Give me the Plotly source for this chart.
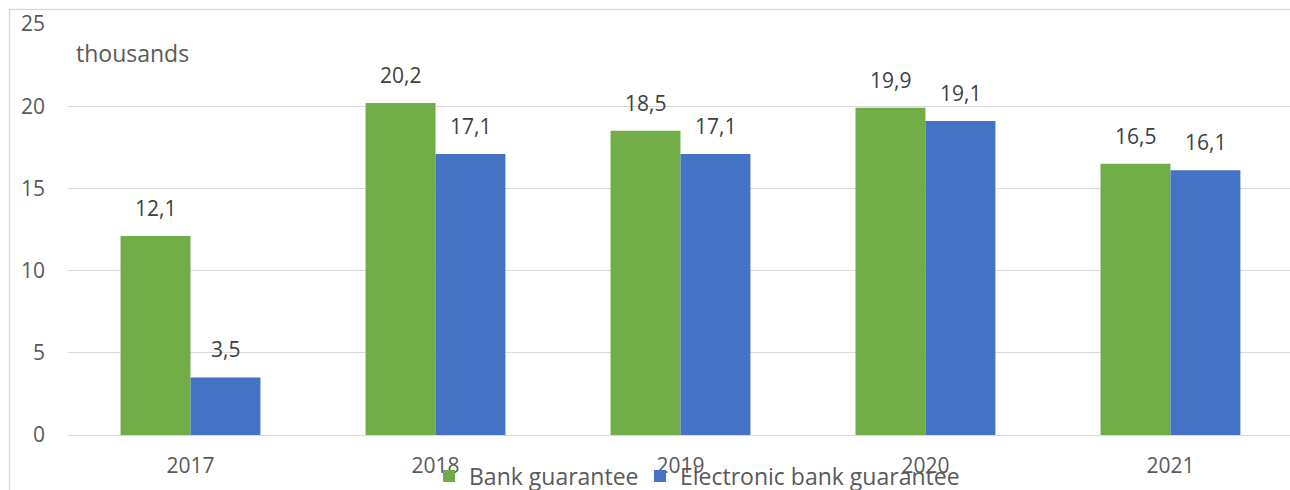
import plotly.graph_objects as go

years = ["2017", "2018", "2019", "2020", "2021"]
bank_guarantee = [12.1, 20.2, 18.5, 19.9, 16.5]
electronic_bank_guarantee = [3.5, 17.1, 17.1, 19.1, 16.1]
y_ticks = [0, 5, 10, 15, 20, 25]

GREEN = "#70AD47"
BLUE = "#4472C4"
TXT = "#595959"
LBL = "#404040"
GRID = "#D9D9D9"
FONT = "Open Sans"
FS_NUM = 21
FS_TXT = 23

W, H = 1290, 490
L, R, T, B = 68, 0, 24, 55
pw, ph = W - L - R, H - T - B
def px(xp): return (xp - L) / pw
def py(yp): return (H - B - yp) / ph

fig = go.Figure()
fig.add_trace(go.Bar(x=years, y=bank_guarantee, name="Bank guarantee", legend="legend",
                     marker=dict(color=GREEN, line=dict(width=0))))
fig.add_trace(go.Bar(x=years, y=electronic_bank_guarantee, name="Electronic bank guarantee",
                     legend="legend2", marker=dict(color=BLUE, line=dict(width=0))))

fmt = lambda v: f"{v:.1f}".replace(".", ",")
ann = []
for i in range(len(years)):
    for val, shift in ((bank_guarantee[i], -35), (electronic_bank_guarantee[i], 35)):
        ann.append(dict(x=i, y=val, xref="x", yref="y", text=fmt(val), showarrow=False,
                        xshift=shift, yshift=12, yanchor="bottom", xanchor="center",
                        font=dict(family=FONT, size=FS_NUM, color=LBL)))
ann.append(dict(x=px(74), y=py(53), xref="paper", yref="paper", text="thousands",
                showarrow=False, xanchor="left", yanchor="middle",
                font=dict(family=FONT, size=FS_TXT, color=TXT)))

shapes = [
    dict(type="line", xref="paper", yref="paper", x0=px(9.5), x1=px(1300), y0=py(9.5), y1=py(9.5),
         line=dict(color=GRID, width=1.5)),
    dict(type="line", xref="paper", yref="paper", x0=px(9.5), x1=px(9.5), y0=py(9.5), y1=py(500),
         line=dict(color=GRID, width=1.5)),
]

leg_common = dict(orientation="h", yanchor="middle", xanchor="left",
                  font=dict(family=FONT, size=FS_TXT, color=TXT),
                  bgcolor="rgba(0,0,0,0)", itemclick=False, itemdoubleclick=False)

fig.update_layout(
    width=W, height=H,
    margin=dict(l=L, r=R, t=T, b=B, pad=0, autoexpand=False),
    paper_bgcolor="white", plot_bgcolor="white",
    barmode="group", bargap=0.429, bargroupgap=0,
    font=dict(family=FONT, size=FS_NUM, color=TXT),
    annotations=ann, shapes=shapes,
    showlegend=True,
    legend=dict(x=px(429), y=py(476), **leg_common),
    legend2=dict(x=px(640), y=py(476), **leg_common),
    xaxis=dict(type="category", range=[-0.5, 4.488], showgrid=False, showline=False,
               zeroline=False, ticks="", ticklabelstandoff=16, automargin=False,
               tickfont=dict(family=FONT, size=FS_NUM, color=TXT)),
    yaxis=dict(range=[0, 25], tickvals=y_ticks, showgrid=True, gridcolor=GRID, gridwidth=1,
               zeroline=True, zerolinecolor=GRID, zerolinewidth=1, showline=False,
               ticks="", ticklabelstandoff=22, automargin=False,
               tickfont=dict(family=FONT, size=FS_NUM, color=TXT)),
)

fig.write_html("out.html")
